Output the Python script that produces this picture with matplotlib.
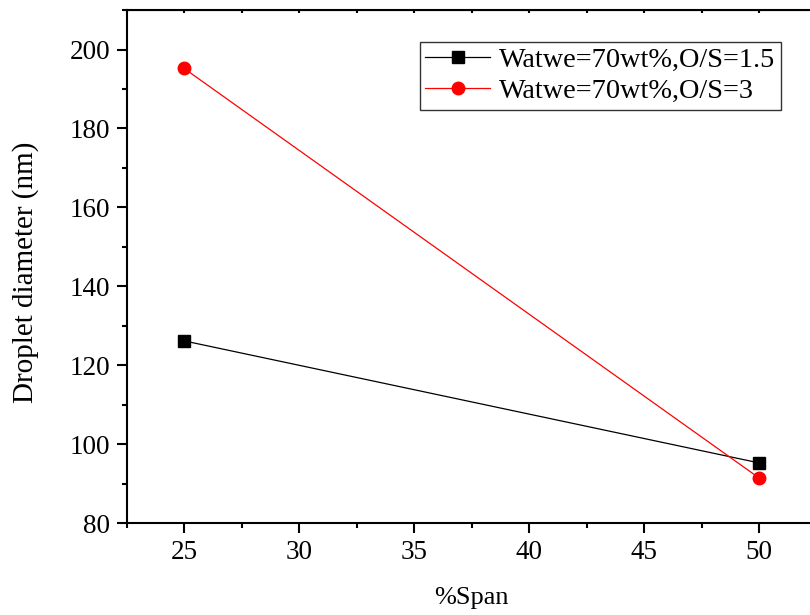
import numpy as np
import matplotlib.pyplot as plt
from matplotlib.ticker import MultipleLocator

span = [25, 50]
diam_os15 = [126.2, 95.3]
diam_os3 = [195.2, 91.5]
labels = ['Watwe=70wt%,O/S=1.5', 'Watwe=70wt%,O/S=3']

plt.rcParams['font.family'] = ['Liberation Serif', 'DejaVu Serif']
plt.rcParams['mathtext.default'] = 'regular'

fig = plt.figure(figsize=(8.1, 6.15), dpi=100)
ax = fig.add_axes([0.1564, 0.1491, 0.8516, 0.8346])

ax.plot(span, diam_os15, color='black', linewidth=0.9, marker='s',
        markersize=8, label=labels[0])
ax.plot(span, diam_os3, color='red', linewidth=0.9, marker='o',
        markersize=9, label=labels[1])

ax.set_xlim(22.5, 52.5)
ax.set_ylim(80, 210)
ax.xaxis.set_major_locator(MultipleLocator(5))
ax.xaxis.set_minor_locator(MultipleLocator(2.5))
ax.yaxis.set_major_locator(MultipleLocator(20))
ax.yaxis.set_minor_locator(MultipleLocator(10))

for sp in ax.spines.values():
    sp.set_linewidth(1.5)

ax.tick_params(axis='both', which='major', direction='out', length=7,
               width=1.5, labelsize=19.5, pad=5)
ax.tick_params(axis='both', which='minor', direction='out', length=3.5,
               width=1.5)
# small inward ticks on the top axis
ax2 = ax.secondary_xaxis('top')
ax2.xaxis.set_major_locator(MultipleLocator(2.5))
ax2.tick_params(axis='x', direction='in', length=2.5, width=1.5,
                labeltop=False)

ax.set_xlabel('%Span', fontsize=19, labelpad=16)
ax.set_ylabel('Droplet diameter (nm)', fontsize=21)
ax.yaxis.set_label_coords(-0.1265, 0.4886)

leg = ax.legend(loc='upper left', bbox_to_anchor=(0.425, 0.938),
                fontsize=20.3, frameon=True, fancybox=False,
                edgecolor='black', handlelength=2.3, handletextpad=0.32,
                borderpad=0.2, labelspacing=0.18, borderaxespad=0)
leg.get_frame().set_linewidth(1.0)

fig.savefig('out.png', dpi=100)
